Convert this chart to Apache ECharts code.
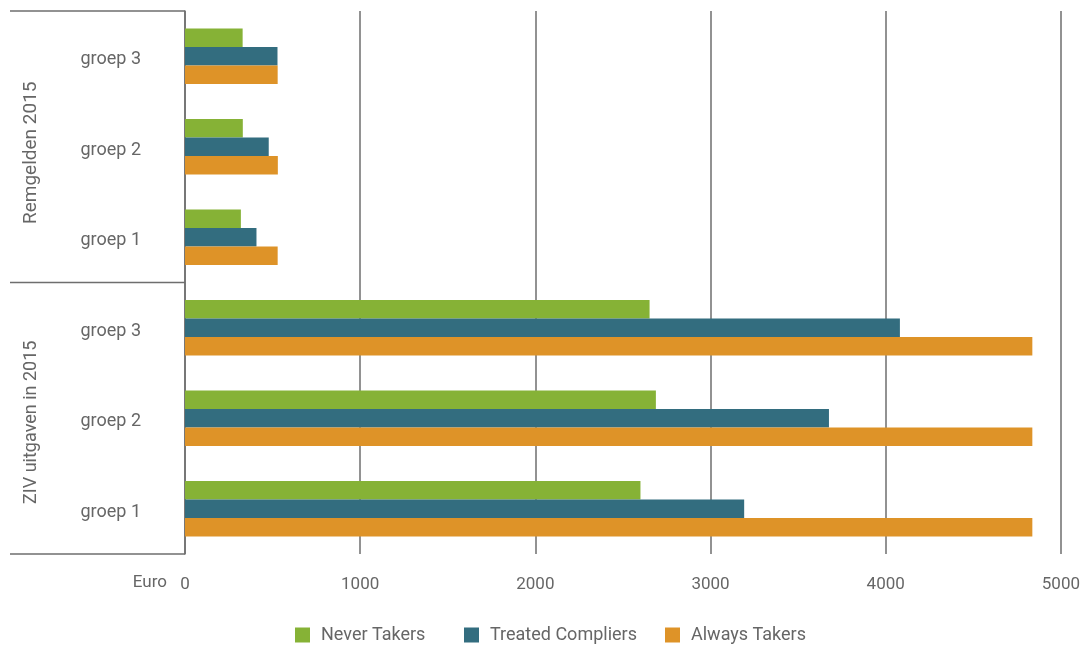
<!DOCTYPE html>
<html>
<head>
<meta charset="utf-8">
<script src="https://cdn.jsdelivr.net/npm/echarts@6/dist/echarts.min.js"></script>
<style>html,body{margin:0;padding:0;background:#fff}#c{width:1083px;height:652px}</style>
</head>
<body>
<div id="c"></div>
<script>
// categories bottom -> top
var categories = ['ZIV|groep 1','ZIV|groep 2','ZIV|groep 3','REM|groep 1','REM|groep 2','REM|groep 3'];
var groupLabels = ['ZIV uitgaven in 2015','Remgelden 2015'];
var neverTakers = [2600, 2688, 2652, 319, 330, 329];
var treatedCompliers = [3192, 3676, 4081, 408, 478, 528];
var alwaysTakers = [4837, 4837, 4837, 529, 530, 529];
var xTicks = [0, 1000, 2000, 3000, 4000, 5000];
var seriesNames = ['Never Takers', 'Treated Compliers', 'Always Takers'];

var FONT = '"Liberation Sans Narrow", "Roboto", sans-serif';
var TXT = '#666666';
var COLORS = ['#86B236', '#336D7F', '#DE9328'];
var chart = echarts.init(document.getElementById('c'));

function mkLegend(name, left) {
  return {
    bottom: 3, left: left,
    itemWidth: 15, itemHeight: 15,
    icon: 'rect',
    data: [name],
    textStyle: {fontFamily: FONT, fontSize: 18, color: TXT, padding: [0,0,0,6]}
  };
}

var option = {
  animation: false,
  backgroundColor: '#fff',
  textStyle: {fontFamily: FONT},
  grid: {left: 185, right: 21, top: 11, bottom: 98, containLabel: false},
  legend: [mkLegend(seriesNames[0], 290), mkLegend(seriesNames[1], 459), mkLegend(seriesNames[2], 660)],
  xAxis: {
    type: 'value', min: xTicks[0], max: xTicks[xTicks.length-1], interval: 1000,
    axisLine: {show: false}, axisTick: {show: false},
    splitLine: {show: true, lineStyle: {color: '#6e6e6e', width: 1.5}},
    axisLabel: {fontFamily: FONT, fontSize: 17, color: TXT, margin: 22,
      formatter: function(v){ return String(v); }}
  },
  yAxis: {
    type: 'category', data: categories,
    axisLine: {show: true, lineStyle: {color: '#6e6e6e', width: 1.5}},
    axisTick: {show: false},
    axisLabel: {fontFamily: FONT, fontSize: 18, color: TXT, margin: 44,
      formatter: function(v){ return '{g|' + v.split('|')[1] + '}'; },
      rich: {g: {fontFamily: FONT, fontSize: 18, color: TXT, padding: [7,0,0,0]}}}
  },
  series: [
    {name: seriesNames[0], type: 'bar', data: neverTakers, itemStyle: {color: COLORS[0]}, barWidth: 18.5, barGap: '0%', barCategoryGap: '38%'},
    {name: seriesNames[1], type: 'bar', data: treatedCompliers, itemStyle: {color: COLORS[1]}, barWidth: 18.5, barGap: '0%'},
    {name: seriesNames[2], type: 'bar', data: alwaysTakers, itemStyle: {color: COLORS[2]}, barWidth: 18.5, barGap: '0%'}
  ]
};
chart.setOption(option);

// decorations positioned via the axes
var yTop = 11, yBot = 652 - 98;
var yMid = (chart.convertToPixel({yAxisIndex: 0}, categories[2]) + chart.convertToPixel({yAxisIndex: 0}, categories[3])) / 2;
var x0 = chart.convertToPixel({xAxisIndex: 0}, 0);
var lineStyle = {stroke: '#6e6e6e', lineWidth: 1.5};
var g = [];
[yTop, yMid, yBot].forEach(function(y){
  g.push({type: 'line', shape: {x1: 10, y1: y, x2: x0, y2: y}, style: lineStyle, silent: true});
});
g.push({type: 'text', x: 31, y: (yTop + yMid) / 2 + 6, rotation: Math.PI / 2,
  style: {text: groupLabels[1], fontFamily: FONT, fontSize: 19, fill: TXT, align: 'center', verticalAlign: 'middle'}});
g.push({type: 'text', x: 31, y: (yMid + yBot) / 2 + 4, rotation: Math.PI / 2,
  style: {text: groupLabels[0], fontFamily: FONT, fontSize: 18, fill: TXT, align: 'center', verticalAlign: 'middle'}});
g.push({type: 'text', x: x0 - 18, y: 583,
  style: {text: 'Euro', fontFamily: FONT, fontSize: 17, fill: TXT, align: 'right', verticalAlign: 'middle'}});
chart.setOption({graphic: g});
</script>
</body>
</html>
